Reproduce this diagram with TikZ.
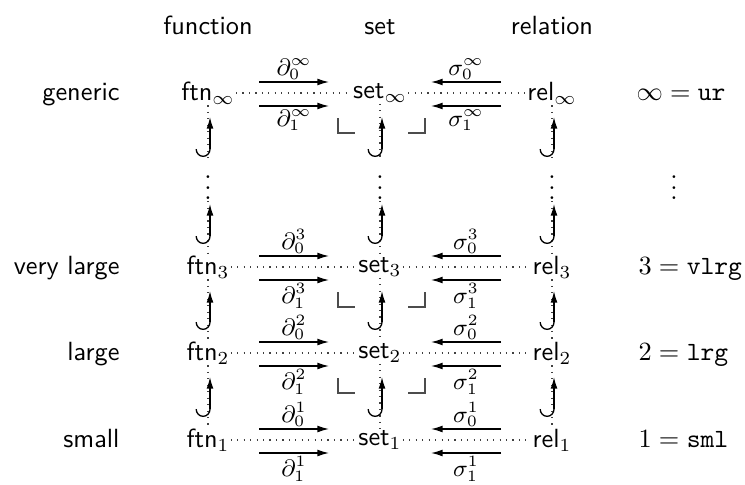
\documentclass[tikz,border=0pt]{standalone}
\usetikzlibrary{arrows.meta,calc}
\begin{document}
\begin{tikzpicture}[x=0.3802pt,y=-0.3802pt,
  obj/.style={inner sep=0.3pt},
  lab/.style={font=\sffamily,inner sep=0pt},
  dotl/.style={dotted,black!75,line width=0.45pt},
  arr/.style={-{Latex[length=4.4pt,width=2.6pt]},line width=0.5pt},
  hk/.style={arrows={{Hooks[right,length=3pt,width=11pt]}-{Latex[length=4.4pt,width=2.6pt]}},line width=0.5pt},
  pb/.style={black!70,line width=0.6pt},
  mla/.style={inner sep=0.7pt,font=\small},
  mlb/.style={inner sep=1.1pt,font=\small}]
\useasboundingbox (0,0) rectangle (745,484);
% headers
\node[lab,anchor=base] (hF) at (208,35) {function};
\node[lab,anchor=base] (hS) at (380,35) {set};
\node[lab,anchor=base] (hR) at (552,35) {relation};
% row labels
\node[lab,anchor=base east] (lInf) at (120,100) {generic};
\node[lab,anchor=base east] (l3) at (120,274) {very large};
\node[lab,anchor=base east] (l2) at (120,360) {large};
\node[lab,anchor=base east] (l1) at (120,447) {small};
% objects
\foreach \n/\y/\s in {0/93/\infty,3/267/3,2/353/2,1/440/1}{
  \node[obj] (f\n) at (208,\y) {$\mathsf{ftn}_{\s}$};
  \node[obj] (s\n) at (380,\y) {$\mathsf{set}_{\s}$};
  \node[obj] (r\n) at (552,\y) {$\mathsf{rel}_{\s}$};
}
\node[obj] (fd) at (208,180) {$\vdots$};
\node[obj] (sd) at (380,180) {$\vdots$};
\node[obj] (rd) at (552,180) {$\vdots$};
\node[obj] (kd) at (674,180) {$\vdots$};
% right column
\node[anchor=base west,inner sep=0pt] (k0) at (636,100) {$\infty = \mathtt{ur}$};
\node[anchor=base west,inner sep=0pt] (k3) at (638,274) {$3 = \mathtt{vlrg}$};
\node[anchor=base west,inner sep=0pt] (k2) at (638,360) {$2 = \mathtt{lrg}$};
\node[anchor=base west,inner sep=0pt] (k1) at (638,447) {$1 = \mathtt{sml}$};
% dotted grid
\foreach \n in {0,3,2,1}{
  \draw[dotl] (f\n) -- (s\n) -- (r\n);
}
\foreach \c in {f,s,r}{
  \draw[dotl] (\c0) -- (\c d) -- (\c3) -- (\c2) -- (\c1);
  \draw[hk] ($(\c d)+(2,-23)$) -- ($(\c0)+(2,24)$);
  \draw[hk] ($(\c3)+(2,-23)$) -- ($(\c d)+(2,24)$);
  \draw[hk] ($(\c2)+(2,-23)$) -- ($(\c3)+(2,24)$);
  \draw[hk] ($(\c1)+(2,-23)$) -- ($(\c2)+(2,24)$);
}
% horizontal arrows
\foreach \n/\s in {0/\infty,3/3,2/2,1/1}{
  \draw[arr] ($(f\n)!0.5!(s\n)+(-35,-11)$) -- ($(f\n)!0.5!(s\n)+(35,-11)$)
     node[midway,above,mla] {$\partial_0^{\s}$};
  \draw[arr] ($(f\n)!0.5!(s\n)+(-35,13)$) -- ($(f\n)!0.5!(s\n)+(35,13)$)
     node[midway,below,mlb] {$\partial_1^{\s}$};
  \draw[arr] ($(s\n)!0.5!(r\n)+(35,-11)$) -- ($(s\n)!0.5!(r\n)+(-35,-11)$)
     node[midway,above,mla] {$\sigma_0^{\s}$};
  \draw[arr] ($(s\n)!0.5!(r\n)+(35,13)$) -- ($(s\n)!0.5!(r\n)+(-35,13)$)
     node[midway,below,mlb] {$\sigma_1^{\s}$};
}
% pullback corners
\foreach \n in {0,3,2}{
  \draw[pb] ($(s\n)+(-42,25)$) |- ($(s\n)+(-25,40)$);
  \draw[pb] ($(s\n)+(28,40)$) -| ($(s\n)+(45,25)$);
}
\end{tikzpicture}
\end{document}
